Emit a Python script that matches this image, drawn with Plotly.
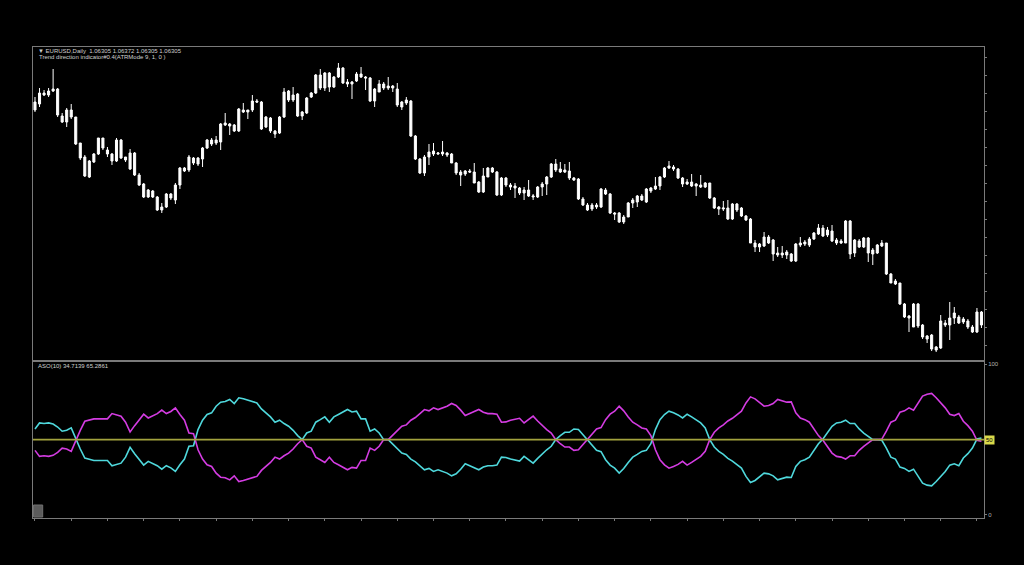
import plotly.graph_objects as go

# ---------------- data ----------------
bars = list(range(210))

open_ = [1.0832, 1.0838, 1.0847, 1.0847, 1.0851, 1.0853, 1.0826, 1.0820, 1.0832, 1.0825,
         1.0799, 1.0785, 1.0765, 1.0780, 1.0788, 1.0804, 1.0792, 1.0788, 1.0781, 1.0802,
         1.0785, 1.0789, 1.0789, 1.0767, 1.0758, 1.0752, 1.0751, 1.0745, 1.0732, 1.0735,
         1.0748, 1.0742, 1.0757, 1.0774, 1.0772, 1.0784, 1.0778, 1.0783, 1.0794, 1.0802,
         1.0799, 1.0800, 1.0819, 1.0816, 1.0817, 1.0811, 1.0832, 1.0830, 1.0832, 1.0841,
         1.0840, 1.0815, 1.0824, 1.0808, 1.0809, 1.0825, 1.0851, 1.0842, 1.0848, 1.0826,
         1.0829, 1.0845, 1.0849, 1.0867, 1.0854, 1.0869, 1.0855, 1.0865, 1.0874, 1.0860,
         1.0858, 1.0861, 1.0868, 1.0865, 1.0864, 1.0841, 1.0850, 1.0858, 1.0854, 1.0856,
         1.0853, 1.0835, 1.0842, 1.0841, 1.0806, 1.0783, 1.0769, 1.0785, 1.0791, 1.0788,
         1.0790, 1.0789, 1.0788, 1.0779, 1.0767, 1.0768, 1.0771, 1.0770, 1.0760, 1.0750,
         1.0765, 1.0774, 1.0770, 1.0747, 1.0764, 1.0757, 1.0756, 1.0754, 1.0749, 1.0752,
         1.0745, 1.0745, 1.0755, 1.0758, 1.0765, 1.0778, 1.0773, 1.0770, 1.0771, 1.0764,
         1.0763, 1.0743, 1.0737, 1.0733, 1.0735, 1.0735, 1.0752, 1.0748, 1.0729, 1.0729,
         1.0720, 1.0725, 1.0739, 1.0740, 1.0742, 1.0740, 1.0751, 1.0753, 1.0756, 1.0765,
         1.0774, 1.0775, 1.0773, 1.0764, 1.0758, 1.0760, 1.0756, 1.0757, 1.0755, 1.0759,
         1.0744, 1.0735, 1.0733, 1.0734, 1.0723, 1.0738, 1.0734, 1.0726, 1.0723, 1.0699,
         1.0695, 1.0696, 1.0705, 1.0702, 1.0687, 1.0689, 1.0687, 1.0688, 1.0681, 1.0697,
         1.0698, 1.0697, 1.0703, 1.0708, 1.0714, 1.0707, 1.0711, 1.0702, 1.0699, 1.0699,
         1.0721, 1.0689, 1.0695, 1.0695, 1.0704, 1.0688, 1.0689, 1.0696, 1.0699, 1.0668,
         1.0661, 1.0659, 1.0638, 1.0624, 1.0638, 1.0638, 1.0617, 1.0606, 1.0607, 1.0595,
         1.0594, 1.0619, 1.0617, 1.0624, 1.0625, 1.0623, 1.0621, 1.0615, 1.0610, 1.0617]

high_ = [1.0845, 1.0854, 1.0852, 1.0854, 1.0873, 1.0854, 1.0829, 1.0834, 1.0838, 1.0825,
         1.0799, 1.0787, 1.0782, 1.0789, 1.0804, 1.0804, 1.0795, 1.0789, 1.0804, 1.0803,
         1.0785, 1.0793, 1.0790, 1.0769, 1.0759, 1.0753, 1.0752, 1.0746, 1.0739, 1.0749,
         1.0749, 1.0759, 1.0775, 1.0775, 1.0787, 1.0785, 1.0785, 1.0795, 1.0803, 1.0804,
         1.0806, 1.0819, 1.0829, 1.0819, 1.0818, 1.0834, 1.0839, 1.0832, 1.0847, 1.0843,
         1.0841, 1.0826, 1.0825, 1.0812, 1.0826, 1.0854, 1.0852, 1.0855, 1.0849, 1.0831,
         1.0845, 1.0850, 1.0868, 1.0873, 1.0870, 1.0870, 1.0866, 1.0879, 1.0875, 1.0863,
         1.0861, 1.0870, 1.0875, 1.0866, 1.0865, 1.0854, 1.0862, 1.0860, 1.0865, 1.0857,
         1.0859, 1.0841, 1.0845, 1.0842, 1.0807, 1.0784, 1.0787, 1.0798, 1.0799, 1.0790,
         1.0801, 1.0790, 1.0789, 1.0780, 1.0772, 1.0772, 1.0773, 1.0779, 1.0761, 1.0774,
         1.0775, 1.0775, 1.0771, 1.0765, 1.0765, 1.0759, 1.0759, 1.0755, 1.0755, 1.0762,
         1.0748, 1.0756, 1.0760, 1.0766, 1.0779, 1.0783, 1.0780, 1.0778, 1.0780, 1.0765,
         1.0764, 1.0745, 1.0739, 1.0739, 1.0739, 1.0754, 1.0754, 1.0749, 1.0730, 1.0730,
         1.0727, 1.0740, 1.0744, 1.0747, 1.0748, 1.0754, 1.0755, 1.0765, 1.0766, 1.0775,
         1.0781, 1.0777, 1.0774, 1.0765, 1.0763, 1.0768, 1.0759, 1.0767, 1.0760, 1.0759,
         1.0745, 1.0736, 1.0741, 1.0742, 1.0739, 1.0739, 1.0735, 1.0727, 1.0724, 1.0702,
         1.0699, 1.0710, 1.0707, 1.0703, 1.0695, 1.0696, 1.0692, 1.0689, 1.0699, 1.0705,
         1.0702, 1.0705, 1.0710, 1.0718, 1.0717, 1.0715, 1.0717, 1.0704, 1.0703, 1.0722,
         1.0722, 1.0703, 1.0703, 1.0705, 1.0705, 1.0694, 1.0698, 1.0702, 1.0699, 1.0669,
         1.0663, 1.0659, 1.0639, 1.0627, 1.0639, 1.0639, 1.0618, 1.0607, 1.0608, 1.0596,
         1.0627, 1.0622, 1.0640, 1.0635, 1.0627, 1.0625, 1.0623, 1.0617, 1.0634, 1.0631]

low_ = [1.0830, 1.0835, 1.0846, 1.0845, 1.0850, 1.0825, 1.0819, 1.0815, 1.0823, 1.0797,
        1.0782, 1.0765, 1.0764, 1.0779, 1.0787, 1.0792, 1.0785, 1.0777, 1.0780, 1.0783,
        1.0780, 1.0772, 1.0766, 1.0756, 1.0744, 1.0744, 1.0744, 1.0731, 1.0729, 1.0734,
        1.0742, 1.0738, 1.0753, 1.0770, 1.0770, 1.0777, 1.0776, 1.0775, 1.0793, 1.0796,
        1.0797, 1.0792, 1.0816, 1.0807, 1.0810, 1.0810, 1.0829, 1.0823, 1.0830, 1.0839,
        1.0812, 1.0814, 1.0809, 1.0804, 1.0808, 1.0824, 1.0840, 1.0840, 1.0825, 1.0822,
        1.0828, 1.0844, 1.0848, 1.0852, 1.0851, 1.0850, 1.0854, 1.0864, 1.0858, 1.0855,
        1.0843, 1.0860, 1.0864, 1.0852, 1.0840, 1.0835, 1.0850, 1.0852, 1.0852, 1.0850,
        1.0835, 1.0832, 1.0837, 1.0805, 1.0782, 1.0768, 1.0766, 1.0777, 1.0786, 1.0787,
        1.0786, 1.0785, 1.0779, 1.0767, 1.0756, 1.0766, 1.0769, 1.0759, 1.0749, 1.0749,
        1.0765, 1.0769, 1.0746, 1.0746, 1.0755, 1.0752, 1.0744, 1.0747, 1.0742, 1.0745,
        1.0742, 1.0744, 1.0746, 1.0747, 1.0764, 1.0770, 1.0769, 1.0769, 1.0762, 1.0761,
        1.0742, 1.0736, 1.0731, 1.0731, 1.0733, 1.0734, 1.0747, 1.0728, 1.0722, 1.0719,
        1.0718, 1.0725, 1.0734, 1.0735, 1.0741, 1.0739, 1.0749, 1.0752, 1.0752, 1.0764,
        1.0773, 1.0771, 1.0763, 1.0755, 1.0757, 1.0755, 1.0746, 1.0754, 1.0754, 1.0743,
        1.0733, 1.0727, 1.0731, 1.0722, 1.0722, 1.0730, 1.0725, 1.0721, 1.0699, 1.0690,
        1.0690, 1.0695, 1.0698, 1.0681, 1.0685, 1.0684, 1.0683, 1.0680, 1.0680, 1.0695,
        1.0696, 1.0695, 1.0702, 1.0707, 1.0705, 1.0705, 1.0700, 1.0697, 1.0698, 1.0699,
        1.0683, 1.0685, 1.0694, 1.0694, 1.0680, 1.0677, 1.0688, 1.0695, 1.0667, 1.0659,
        1.0657, 1.0637, 1.0624, 1.0610, 1.0615, 1.0614, 1.0603, 1.0599, 1.0591, 1.0590,
        1.0593, 1.0615, 1.0602, 1.0618, 1.0618, 1.0618, 1.0613, 1.0609, 1.0609, 1.0614]

close_ = [1.0840, 1.0849, 1.0849, 1.0851, 1.0853, 1.0827, 1.0820, 1.0832, 1.0825, 1.0798,
          1.0784, 1.0766, 1.0781, 1.0788, 1.0804, 1.0794, 1.0788, 1.0781, 1.0802, 1.0784,
          1.0782, 1.0773, 1.0767, 1.0757, 1.0745, 1.0745, 1.0745, 1.0732, 1.0735, 1.0748,
          1.0744, 1.0757, 1.0774, 1.0771, 1.0785, 1.0779, 1.0784, 1.0794, 1.0802, 1.0798,
          1.0802, 1.0818, 1.0817, 1.0818, 1.0811, 1.0833, 1.0830, 1.0832, 1.0841, 1.0840,
          1.0813, 1.0825, 1.0811, 1.0811, 1.0825, 1.0850, 1.0842, 1.0847, 1.0826, 1.0830,
          1.0844, 1.0849, 1.0867, 1.0854, 1.0869, 1.0855, 1.0865, 1.0874, 1.0859, 1.0858,
          1.0860, 1.0868, 1.0865, 1.0864, 1.0841, 1.0853, 1.0858, 1.0854, 1.0856, 1.0854,
          1.0837, 1.0840, 1.0839, 1.0806, 1.0783, 1.0769, 1.0785, 1.0790, 1.0788, 1.0789,
          1.0788, 1.0787, 1.0779, 1.0769, 1.0770, 1.0771, 1.0770, 1.0759, 1.0750, 1.0766,
          1.0774, 1.0770, 1.0747, 1.0764, 1.0757, 1.0755, 1.0754, 1.0749, 1.0752, 1.0746,
          1.0746, 1.0755, 1.0758, 1.0765, 1.0778, 1.0772, 1.0770, 1.0772, 1.0764, 1.0762,
          1.0743, 1.0737, 1.0732, 1.0737, 1.0737, 1.0753, 1.0748, 1.0729, 1.0728, 1.0720,
          1.0725, 1.0739, 1.0742, 1.0746, 1.0746, 1.0753, 1.0754, 1.0756, 1.0765, 1.0774,
          1.0776, 1.0773, 1.0764, 1.0758, 1.0760, 1.0756, 1.0758, 1.0755, 1.0759, 1.0744,
          1.0734, 1.0733, 1.0734, 1.0723, 1.0738, 1.0732, 1.0726, 1.0722, 1.0699, 1.0695,
          1.0698, 1.0705, 1.0699, 1.0688, 1.0689, 1.0687, 1.0690, 1.0681, 1.0698, 1.0699,
          1.0700, 1.0703, 1.0709, 1.0714, 1.0706, 1.0712, 1.0701, 1.0699, 1.0701, 1.0721,
          1.0688, 1.0702, 1.0701, 1.0704, 1.0689, 1.0692, 1.0697, 1.0699, 1.0668, 1.0659,
          1.0658, 1.0638, 1.0625, 1.0626, 1.0615, 1.0616, 1.0605, 1.0603, 1.0593, 1.0592,
          1.0621, 1.0617, 1.0624, 1.0629, 1.0619, 1.0620, 1.0615, 1.0610, 1.0630, 1.0630]

aso_bull = [57.1, 61.1, 60.7, 61.1, 60.4, 58.4, 55.6, 56.2, 57.8, 50.4,
            43.8, 37.8, 37.1, 36.2, 36.2, 36.2, 36.2, 32.7, 33.8, 34.4,
            38.4, 44.9, 40.7, 36.7, 33.1, 35.6, 34.0, 32.7, 30.4, 32.7,
            31.3, 28.9, 33.3, 37.1, 45.6, 46.0, 56.7, 62.9, 66.7, 67.8,
            72.2, 74.9, 75.3, 76.7, 74.0, 77.8, 77.1, 76.2, 74.9, 74.4,
            70.4, 67.8, 65.1, 61.6, 62.9, 60.7, 58.9, 56.2, 52.7, 50.0,
            54.4, 55.6, 61.6, 63.3, 65.1, 61.6, 65.1, 66.7, 68.2, 70.0,
            68.4, 68.9, 63.8, 63.8, 55.6, 57.1, 54.4, 50.0, 50.0, 47.1,
            43.8, 41.1, 40.2, 37.1, 35.3, 32.7, 30.0, 30.9, 28.9, 30.0,
            28.9, 27.8, 26.0, 27.3, 30.4, 34.0, 32.7, 31.3, 30.0, 31.8,
            32.7, 32.7, 33.1, 38.4, 38.2, 37.1, 36.2, 35.8, 38.9, 36.7,
            34.4, 37.6, 40.7, 43.3, 45.6, 50.0, 52.7, 54.9, 54.9, 57.1,
            56.7, 53.3, 50.0, 46.4, 42.9, 42.0, 36.7, 33.1, 31.1, 27.8,
            30.9, 34.9, 38.4, 40.2, 42.2, 42.9, 47.3, 56.7, 63.3, 66.7,
            68.9, 67.8, 66.4, 64.4, 66.9, 65.1, 63.3, 61.1, 57.8, 50.0,
            45.1, 42.2, 40.2, 37.6, 35.8, 33.3, 31.1, 25.6, 21.6, 22.9,
            25.1, 27.8, 27.3, 26.0, 23.3, 24.4, 25.1, 24.9, 32.2, 35.6,
            36.7, 38.4, 42.9, 47.3, 50.4, 54.9, 58.9, 61.1, 61.6, 62.9,
            60.7, 60.7, 57.1, 54.4, 52.2, 50.0, 50.0, 49.6, 44.4, 38.4,
            37.1, 31.8, 30.9, 28.9, 30.4, 25.6, 21.1, 19.8, 19.3, 22.2,
            25.6, 28.9, 33.1, 34.0, 32.7, 37.8, 40.7, 44.4, 50.4, 51.1]

aso_bear = [42.9, 38.9, 39.3, 38.9, 39.6, 41.6, 44.4, 43.8, 42.2, 49.6,
            56.2, 62.2, 62.9, 63.8, 63.8, 63.8, 63.8, 67.3, 66.2, 65.6,
            61.6, 55.1, 59.3, 63.3, 66.9, 64.4, 66.0, 67.3, 69.6, 67.3,
            68.7, 71.1, 66.7, 62.9, 54.4, 54.0, 43.3, 37.1, 33.3, 32.2,
            27.8, 25.1, 24.7, 23.3, 26.0, 22.2, 22.9, 23.8, 25.1, 25.6,
            29.6, 32.2, 34.9, 38.4, 37.1, 39.3, 41.1, 43.8, 47.3, 50.0,
            45.6, 44.4, 38.4, 36.7, 34.9, 38.4, 34.9, 33.3, 31.8, 30.0,
            31.6, 31.1, 36.2, 36.2, 44.4, 42.9, 45.6, 50.0, 50.0, 52.9,
            56.2, 58.9, 59.8, 62.9, 64.7, 67.3, 70.0, 69.1, 71.1, 70.0,
            71.1, 72.2, 74.0, 72.7, 69.6, 66.0, 67.3, 68.7, 70.0, 68.2,
            67.3, 67.3, 66.9, 61.6, 61.8, 62.9, 63.8, 64.2, 61.1, 63.3,
            65.6, 62.4, 59.3, 56.7, 54.4, 50.0, 47.3, 45.1, 45.1, 42.9,
            43.3, 46.7, 50.0, 53.6, 57.1, 58.0, 63.3, 66.9, 68.9, 72.2,
            69.1, 65.1, 61.6, 59.8, 57.8, 57.1, 52.7, 43.3, 36.7, 33.3,
            31.1, 32.2, 33.6, 35.6, 33.1, 34.9, 36.7, 38.9, 42.2, 50.0,
            54.9, 57.8, 59.8, 62.4, 64.2, 66.7, 68.9, 74.4, 78.4, 77.1,
            74.9, 72.2, 72.7, 74.0, 76.7, 75.6, 74.9, 75.1, 67.8, 64.4,
            63.3, 61.6, 57.1, 52.7, 49.6, 45.1, 41.1, 38.9, 38.4, 37.1,
            39.3, 39.3, 42.9, 45.6, 47.8, 50.0, 50.0, 50.4, 55.6, 61.6,
            62.9, 68.2, 69.1, 71.1, 69.6, 74.4, 78.9, 80.2, 80.7, 77.8,
            74.4, 71.1, 66.9, 66.0, 67.3, 62.2, 59.3, 55.6, 49.6, 48.9]

aso_level = 50
aso_ticks = [0, 100]

header_main = "▼ EURUSD,Daily  1.06305 1.06372 1.06305 1.06305"
header_ind = "Trend direction indicator#0.4(ATRMode 9, 1, 0 )"
header_aso = "ASO(10) 34.7139 65.2861"

# ---------------- styling ----------------
FRAME = "#7a7a7a"
TXT = "#d0d0d0"
CYAN = "#4fd8dc"
MAGENTA = "#d43ce2"
LEVEL = "#a3a33e"
FONT = "Liberation Sans"

fig = go.Figure()

fig.add_trace(go.Candlestick(
    x=bars, open=open_, high=high_, low=low_, close=close_,
    increasing=dict(line=dict(color="#ffffff", width=1), fillcolor="#ffffff"),
    decreasing=dict(line=dict(color="#ffffff", width=1), fillcolor="#ffffff"),
    whiskerwidth=0, xaxis="x", yaxis="y", hoverinfo="skip", showlegend=False))

fig.add_trace(go.Scatter(x=bars, y=aso_bull, mode="lines",
                         line=dict(color=CYAN, width=1.6),
                         xaxis="x2", yaxis="y2", hoverinfo="skip", showlegend=False))
fig.add_trace(go.Scatter(x=bars, y=aso_bear, mode="lines",
                         line=dict(color=MAGENTA, width=1.6),
                         xaxis="x2", yaxis="y2", hoverinfo="skip", showlegend=False))

xr = [-0.44, 209.56]
split = 0.3333

fig.update_layout(
    width=1024, height=565,
    paper_bgcolor="#000000", plot_bgcolor="#000000",
    margin=dict(l=33, r=40, t=47, b=47),
    showlegend=False,
    boxgap=0.35,
    font=dict(family=FONT, color=TXT, size=6),
    xaxis=dict(domain=[0, 1], range=xr, anchor="y", showgrid=False, zeroline=False,
               showticklabels=False, showline=True, linecolor=FRAME, linewidth=1,
               mirror=True, rangeslider=dict(visible=False), ticks=""),
    yaxis=dict(domain=[split, 1], range=[1.0581, 1.0895], side="right",
               showgrid=False, zeroline=False, showticklabels=False,
               showline=True, linecolor=FRAME, linewidth=1, mirror=True,
               ticks="outside", ticklen=2, tickcolor=FRAME,
               tick0=1.0867, dtick=0.0018),
    xaxis2=dict(domain=[0, 1], range=xr, anchor="y2", showgrid=False, zeroline=False,
                showticklabels=False, showline=True, linecolor=FRAME, linewidth=1,
                mirror=True, ticks="outside", ticklen=2, tickcolor=FRAME,
                tick0=0, dtick=8),
    yaxis2=dict(domain=[0, split], range=[-2.0, 102.2], side="right", anchor="x2",
                showgrid=False, zeroline=False, showline=True, linecolor=FRAME,
                linewidth=1, mirror=True, ticks="outside", ticklen=2, tickcolor=FRAME,
                tickvals=aso_ticks, ticktext=[str(t) for t in aso_ticks],
                tickfont=dict(family=FONT, size=6, color="#b0b0b0")),
)

# level line at 50
fig.add_shape(type="line", xref="x2 domain", yref="y2", x0=0, x1=1,
              y0=aso_level, y1=aso_level, line=dict(color=LEVEL, width=1.6))

# small grey square bottom-left of indicator window
fig.add_shape(type="rect", xref="paper", yref="paper", x0=0.0005, x1=0.0102,
              y0=0.002, y1=0.0276, fillcolor="#5c5c5c", line=dict(color="#707070", width=1))

fig.add_annotation(text=header_main, xref="paper", yref="paper", x=0.003, y=0.9905,
                   xanchor="left", yanchor="middle", showarrow=False,
                   font=dict(family=FONT, size=6, color=TXT))
fig.add_annotation(text=header_ind, xref="paper", yref="paper", x=0.004, y=0.9795,
                   xanchor="left", yanchor="middle", showarrow=False,
                   font=dict(family=FONT, size=6, color=TXT))
fig.add_annotation(text=header_aso, xref="paper", yref="paper", x=0.003, y=0.3227,
                   xanchor="left", yanchor="middle", showarrow=False,
                   font=dict(family=FONT, size=6, color=TXT))
fig.add_annotation(text=str(aso_level), xref="paper", yref="y2", x=1.0005, y=aso_level,
                   xanchor="left", yanchor="middle", showarrow=False,
                   bgcolor="#d9d94a", borderpad=1,
                   font=dict(family=FONT, size=6, color="#000000"))

fig.write_html("out.html", config={"displayModeBar": False},
               post_script="document.body.style.margin='0';")
